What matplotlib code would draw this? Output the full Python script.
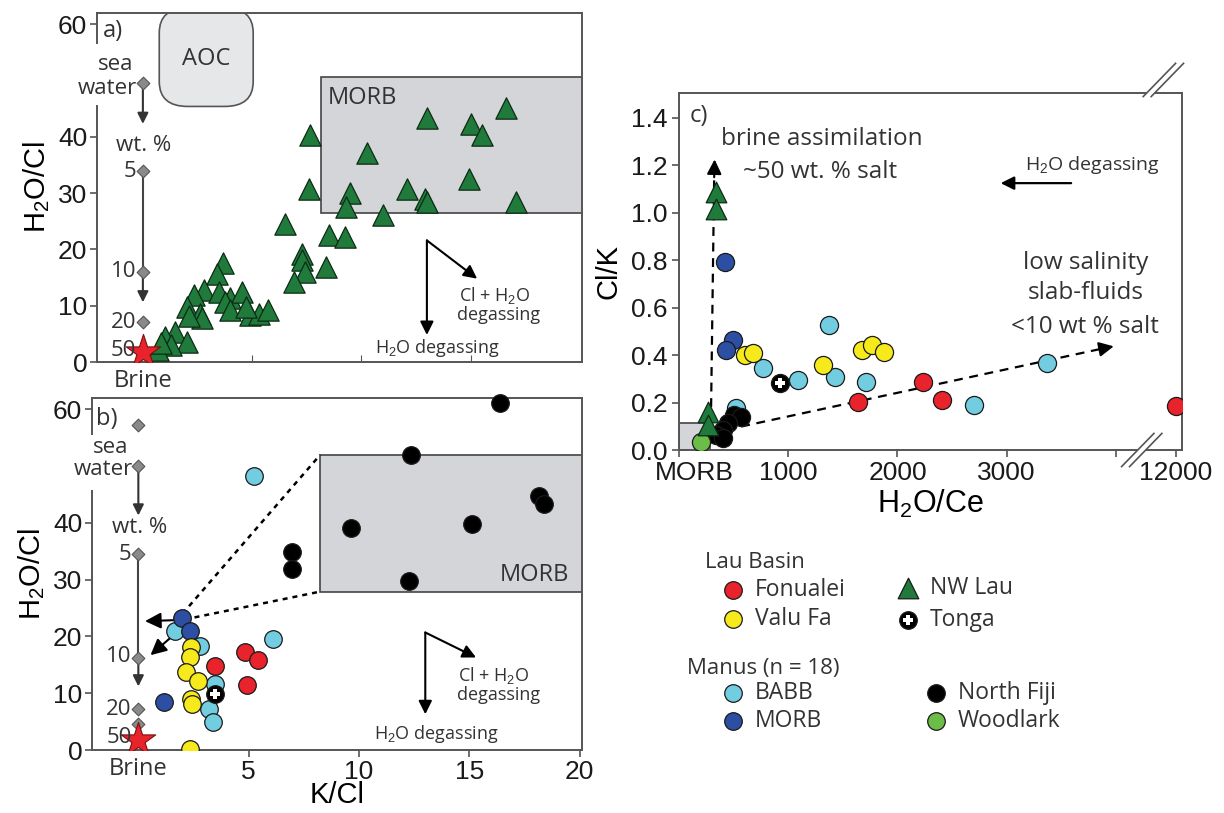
import matplotlib.pyplot as plt
from matplotlib.patches import Rectangle, FancyBboxPatch, Polygon
from matplotlib.transforms import ScaledTranslation

plt.rcParams['font.family'] = ['Liberation Sans', 'DejaVu Sans']
plt.rcParams['mathtext.fontset'] = 'custom'
plt.rcParams['mathtext.rm'] = 'Liberation Sans'
plt.rcParams['mathtext.it'] = 'Liberation Sans'
ANNO = ['Open Sans', 'DejaVu Sans']

# colours
C_RED = '#e8232b'
C_YEL = '#f6ea1c'
C_CYAN = '#72cde0'
C_BLUE = '#2c4fa3'
C_TRI = '#1f7a3c'
C_WOOD = '#6cbd47'
C_BOX = '#d4d5d8'
C_SPINE = '#555555'
C_TXT = '#333333'

# ---------------- panel a : NW Lau, K/Cl vs H2O/Cl
nwlau_kcl = [7.64, 13.0, 15.0, 15.5, 16.6, 10.25, 14.95, 7.6, 9.5, 12.1, 12.9, 13.0,
             17.1, 9.3, 11.0, 6.5, 8.5, 9.26, 7.3, 7.3, 7.4, 8.4, 6.9, 3.65, 3.4,
             2.78, 2.34, 3.48, 4.0, 4.52, 3.74, 2.0, 2.6, 2.7, 4.0, 4.9, 5.3, 5.75,
             2.1, 1.46, 1.0, 2.0, 1.3, 0.67, 4.7, 0.85]
nwlau_h2ocl = [40.4, 43.4, 42.2, 40.4, 45.1, 37.2, 32.5, 30.7, 30.1, 30.7, 28.9, 28.4,
               28.4, 27.5, 26.1, 24.5, 22.5, 22.2, 19.2, 18.1, 16.0, 16.9, 14.2, 17.5,
               15.7, 12.8, 11.9, 12.5, 11.3, 12.5, 10.7, 9.8, 8.6, 7.8, 9.2, 8.4, 8.6,
               9.2, 8.1, 5.4, 4.5, 3.6, 3.1, 2.2, 9.8, 3.4]

# brine / seawater mixing line (H2O/Cl at K/Cl = 0)
brine_a_y = [49.5, 33.9, 16.0, 7.1]
brine_b_y = [57.3, 50.0, 34.6, 16.2, 7.2, 4.6]
brine_star_y = 1.8

# ---------------- panel b : K/Cl vs H2O/Cl by group
fon_kcl = [3.48, 4.84, 5.4, 4.93]
fon_h2ocl = [14.8, 17.2, 15.8, 11.5]
valu_kcl = [2.4, 2.34, 2.17, 2.69, 2.4, 2.43, 2.34]
valu_h2ocl = [18.1, 16.3, 13.7, 12.2, 9.0, 8.1, 0.2]
babb_kcl = [5.23, 6.1, 1.68, 2.78, 3.48, 3.18, 3.39]
babb_h2ocl = [48.3, 19.5, 21.0, 18.4, 11.6, 7.2, 4.9]
mmorb_kcl = [1.99, 2.34, 1.15]
mmorb_h2ocl = [23.3, 21.0, 8.4]
tonga_kcl = [3.48]
tonga_h2ocl = [9.85]
fiji_kcl = [16.4, 12.34, 9.65, 15.1, 18.16, 18.4, 6.98, 6.98, 12.27]
fiji_h2ocl = [61.2, 52.0, 39.1, 39.8, 44.75, 43.3, 34.8, 31.8, 29.8]

# ---------------- panel c : H2O/Ce vs Cl/K
c_nwlau_x = [343, 336, 262, 262]
c_nwlau_y = [1.087, 1.017, 0.162, 0.106]
c_mmorb_x = [417, 491, 428]
c_mmorb_y = [0.793, 0.463, 0.421]
c_valu_x = [601, 675, 1321, 1672, 1764, 1875]
c_valu_y = [0.400, 0.407, 0.358, 0.421, 0.442, 0.414]
c_babb_x = [523, 768, 1089, 1376, 1424, 1708, 2705, 3369]
c_babb_y = [0.176, 0.344, 0.295, 0.526, 0.309, 0.288, 0.189, 0.365]
c_tonga_x = [923]
c_tonga_y = [0.281]
c_fon_x = [1635, 2232, 2410, 12000]
c_fon_y = [0.203, 0.288, 0.210, 0.185]
c_fiji_x = [508, 569, 446, 400, 338, 400]
c_fiji_y = [0.148, 0.141, 0.113, 0.085, 0.063, 0.05]
c_wood_x = [200]
c_wood_y = [0.035]


def xpos(v):
    # broken axis: linear to 4000, compressed beyond
    return v if v <= 4000 else 4000 + (v - 4000) * (550 / 8000)


fig = plt.figure(figsize=(12.24, 8.13), dpi=100)
W, H = 1224, 813


def add_ax(l, t, r, b):
    return fig.add_axes([l / W, 1 - b / H, (r - l) / W, (b - t) / H])


def arrow(ax, tail, tip, color='black', lw=1.5, ms=18, style='-|>'):
    ax.annotate('', xy=tip, xytext=tail,
                arrowprops=dict(arrowstyle=style, color=color, lw=lw,
                                mutation_scale=ms, shrinkA=0, shrinkB=0),
                annotation_clip=False)


def style_ab(ax, ytop, gap):
    ax.set_xlim(-2.1, 20.1)
    ax.set_ylim(0, ytop)
    for s in ax.spines.values():
        s.set_color(C_SPINE)
        s.set_linewidth(1.4)
    ax.spines['left'].set_visible(False)
    ax.axvline(-2.1, ymin=0, ymax=gap[0] / ytop, color=C_SPINE, lw=1.4, clip_on=False)
    ax.axvline(-2.1, ymin=gap[1] / ytop, ymax=1, color=C_SPINE, lw=1.4, clip_on=False)
    ax.set_yticks([0, 10, 20, 30, 40, 60])
    ax.tick_params(axis='y', labelsize=19, length=5, width=1.2, color=C_SPINE, pad=2,
                   labelcolor='#1a1a1a')
    ax.text(0, -1.2, 'Brine', family=ANNO, fontsize=17, color=C_TXT,
            ha='center', va='top')
    ax.set_ylabel('H$_2$O/Cl', fontsize=21, labelpad=4)


def brine_line(ax, ys, top_arrow, low_arrow):
    ax.plot([0, 0], [top_arrow[0] - 15.5 if False else ys[-4 if len(ys) > 4 else 1],
                     ys[-3 if len(ys) > 4 else 2]],
            color='#444444', lw=1.5, zorder=3)
    arrow(ax, (0, top_arrow[0]), (0, top_arrow[1]), color='#333333', ms=16)
    arrow(ax, (0, low_arrow[0]), (0, low_arrow[1]), color='#333333', ms=16)
    ax.scatter([0] * len(ys), ys, marker='D', s=42, color='#8a8a8a',
               edgecolor='#555555', lw=0.8, zorder=4)
    ax.scatter([0], [brine_star_y], marker='*', s=680, color=C_RED,
               edgecolor='#7a1010', lw=0.8, zorder=6)


def degassing(ax, base, down, diag, ty):
    arrow(ax, base, down, ms=20)
    arrow(ax, base, diag, ms=20)
    ax.text(16.1, ty[0], 'Cl + H$_2$O', family=ANNO, fontsize=13, color=C_TXT,
            ha='center', va='center')
    ax.text(16.3, ty[1], 'degassing', family=ANNO, fontsize=13, color=C_TXT,
            ha='center', va='center')
    ax.text(13.5, ty[2], 'H$_2$O degassing', family=ANNO, fontsize=13, color=C_TXT,
            ha='center', va='center')


# ================= panel a
ax_a = add_ax(97, 13, 582, 362)
style_ab(ax_a, 62, (45.4, 56.7))
ax_a.set_xticks([5, 10, 15])
ax_a.tick_params(axis='x', direction='in', length=5, color=C_SPINE, labelbottom=False)
ax_a.add_patch(Rectangle((8.15, 26.5), 12.0, 24.1, facecolor=C_BOX,
                         edgecolor='#444444', lw=1.2, zorder=1))
ax_a.add_patch(FancyBboxPatch((0.75, 45.4), 4.3, 17.5,
                              boxstyle='round,pad=0,rounding_size=1.3',
                              mutation_aspect=3.4, facecolor='#e6e7e9',
                              edgecolor='#555555', lw=1.2, zorder=1, clip_on=True))
ax_a.text(2.9, 53.8, 'AOC', family=ANNO, fontsize=17, color=C_TXT, ha='center', va='center')
ax_a.text(8.45, 46.9, 'MORB', family=ANNO, fontsize=17, color=C_TXT, ha='left', va='center')
ax_a.text(-1.85, 58.8, 'a)', family=ANNO, fontsize=17, color=C_TXT, ha='left', va='center')
ax_a.scatter(nwlau_kcl, nwlau_h2ocl, marker='^', s=235, color=C_TRI,
             edgecolor='#0d2b14', lw=0.9, zorder=5)
brine_line(ax_a, brine_a_y, (49.5, 42.3), (16.0, 10.6))
for yv, lab, xo in [(52.8, 'sea', -0.45), (48.6, 'water', -0.25), (38.4, 'wt. %', 1.3),
                    (33.9, '5', -0.3), (16.0, '10', -0.3), (7.1, '20', -0.3),
                    (2.0, '50', -0.3)]:
    ax_a.text(xo, yv, lab, family=ANNO, fontsize=16, color=C_TXT,
              ha='right', va='center', zorder=7)
degassing(ax_a, (13.0, 21.6), (13.0, 4.8), (15.3, 14.8), (11.9, 8.4, 2.5))

# ================= panel b
ax_b = add_ax(92, 398, 582, 750)
style_ab(ax_b, 62, (45.6, 55.6))
ax_b.set_xticks([5, 10, 15, 20])
ax_b.tick_params(axis='x', labelsize=19, length=5, width=1.2, color=C_SPINE, pad=2,
                 labelcolor='#1a1a1a')
ax_b.set_xlabel('K/Cl', fontsize=21, labelpad=-2)
ax_b.add_patch(Rectangle((8.24, 27.9), 12.0, 24.1, facecolor=C_BOX,
                         edgecolor='#444444', lw=1.2, zorder=1))
ax_b.text(19.5, 30.8, 'MORB', family=ANNO, fontsize=17, color=C_TXT, ha='right', va='center')
ax_b.text(-1.9, 58.3, 'b)', family=ANNO, fontsize=17, color=C_TXT, ha='left', va='center')
ax_b.plot([2.0, 8.24], [24.0, 52.0], color='black', lw=1.8, ls=(0, (2, 2)), zorder=2)
ax_b.plot([2.1, 8.24], [23.0, 27.9], color='black', lw=1.8, ls=(0, (2, 2)), zorder=2)
brine_line(ax_b, brine_b_y, (50.0, 41.3), (16.2, 11.2))
arrow(ax_b, (1.9, 22.9), (0.3, 22.7), ms=24)
arrow(ax_b, (1.7, 20.6), (0.55, 16.7), ms=24)
for yv, lab, xo in [(53.2, 'sea', -0.45), (49.4, 'water', -0.25), (39.2, 'wt. %', 1.3),
                    (34.4, '5', -0.3), (16.4, '10', -0.3), (7.2, '20', -0.3),
                    (2.2, '50', -0.3)]:
    ax_b.text(xo, yv, lab, family=ANNO, fontsize=16, color=C_TXT,
              ha='right', va='center', zorder=7)
kw = dict(s=160, edgecolor='#1a1a1a', lw=0.9, zorder=5)
ax_b.scatter(babb_kcl, babb_h2ocl, color=C_CYAN, **kw)
ax_b.scatter(mmorb_kcl, mmorb_h2ocl, color=C_BLUE, **kw)
ax_b.scatter(valu_kcl, valu_h2ocl, color=C_YEL, **kw)
ax_b.scatter(fon_kcl, fon_h2ocl, color=C_RED, **kw)
ax_b.scatter(fiji_kcl, fiji_h2ocl, color='black', clip_on=False, **kw)
ax_b.scatter(tonga_kcl, tonga_h2ocl, color='black', **kw)
ax_b.scatter(tonga_kcl, tonga_h2ocl, marker='P', s=45, color='white', lw=0, zorder=6)
degassing(ax_b, (13.0, 20.7), (13.0, 6.3), (15.3, 16.3), (13.1, 9.6, 2.8))

# ================= panel c
ax_c = add_ax(679, 93, 1182, 450)
ax_c.set_xlim(0, 4605)
ax_c.set_ylim(0, 1.505)
for s in ax_c.spines.values():
    s.set_color(C_SPINE)
    s.set_linewidth(1.4)
ax_c.set_yticks([0, 0.2, 0.4, 0.6, 0.8, 1.0, 1.2, 1.4])
ax_c.set_yticklabels(['0.0', '0.2', '0.4', '0.6', '0.8', '1.0', '1.2', '1.4'])
ax_c.set_xticks([0, 1000, 2000, 3000, 4000, xpos(12000)])
ax_c.set_xticklabels(['MORB', '1000', '2000', '3000', '', '12000'])
ax_c.tick_params(labelsize=19, length=5, width=1.2, color=C_SPINE, pad=3,
                 labelcolor='#1a1a1a')
morb_lab = ax_c.get_xticklabels()[0]
morb_lab.set_horizontalalignment('left')
morb_lab.set_transform(morb_lab.get_transform() +
                       ScaledTranslation(-0.24, 0, fig.dpi_scale_trans))
ax_c.set_xlabel('H$_2$O/Ce', fontsize=22, labelpad=2)
ax_c.set_ylabel('Cl/K', fontsize=21, labelpad=6)
ax_c.add_patch(Rectangle((0, 0), 288, 0.112, facecolor=C_BOX, edgecolor='#444444',
                         lw=1.2, zorder=1))
# axis break marks
for yb, x0 in ((0.0, 4052), (1.56, 4250)):
    ax_c.add_patch(Polygon([(x0, yb - 0.07), (x0 + 73, yb - 0.07), (x0 + 369, yb + 0.07),
                            (x0 + 296, yb + 0.07)], closed=True, facecolor='white',
                           edgecolor='none', clip_on=False, zorder=3))
    for xs in (x0, x0 + 73):
        ax_c.plot([xs, xs + 296], [yb - 0.07, yb + 0.07], color=C_SPINE, lw=1.2,
                  clip_on=False, zorder=4)
# trend lines
ax_c.plot([290, 322], [0.05, 1.15], color='black', lw=1.6, ls=(0, (4, 3)), zorder=2)
arrow(ax_c, (322, 1.15), (326, 1.225), ms=22)
ax_c.plot([430, 3850], [0.085, 0.425], color='black', lw=1.6, ls=(0, (4, 3)), zorder=2)
arrow(ax_c, (3850, 0.425), (3980, 0.437), ms=22)
arrow(ax_c, (3590, 1.125), (2945, 1.125), lw=1.6, ms=20)

kw = dict(s=170, edgecolor='#1a1a1a', lw=0.9, zorder=5)
ax_c.scatter(c_babb_x, c_babb_y, color=C_CYAN, **kw)
ax_c.scatter(c_fiji_x, c_fiji_y, color='black', **kw)
ax_c.scatter(c_mmorb_x, c_mmorb_y, color=C_BLUE, **kw)
ax_c.scatter(c_valu_x, c_valu_y, color=C_YEL, **kw)
ax_c.scatter([xpos(v) for v in c_fon_x], c_fon_y, color=C_RED, **kw)
ax_c.scatter(c_tonga_x, c_tonga_y, color='black', **kw)
ax_c.scatter(c_tonga_x, c_tonga_y, marker='P', s=45, color='white', lw=0, zorder=6)
ax_c.scatter(c_wood_x, c_wood_y, color=C_WOOD, **kw)
ax_c.scatter(c_nwlau_x, c_nwlau_y, marker='^', s=220, color=C_TRI,
             edgecolor='#0d2b14', lw=0.9, zorder=6)

ax_c.text(95, 1.41, 'c)', family=ANNO, fontsize=17, color=C_TXT, ha='left', va='center')
ax_c.text(380, 1.31, 'brine assimilation', family=ANNO, fontsize=17.5, color=C_TXT,
          ha='left', va='center')
ax_c.text(583, 1.17, '~50 wt. % salt', family=ANNO, fontsize=17.5, color=C_TXT,
          ha='left', va='center')
ax_c.text(3166, 1.20, 'H$_2$O degassing', family=ANNO, fontsize=14, color=C_TXT,
          ha='left', va='center')
for yv, lab in [(0.79, 'low salinity'), (0.66, 'slab-fluids'), (0.52, '<10 wt % salt')]:
    ax_c.text(3720, yv, lab, family=ANNO, fontsize=17.5, color=C_TXT,
              ha='center', va='center')

# ================= legend
ax_l = fig.add_axes([0, 0, 1, 1], zorder=-1)
ax_l.set_xlim(0, W)
ax_l.set_ylim(H, 0)
ax_l.axis('off')
legend_groups = [('Lau Basin', 705, 562), ('Manus (n = 18)', 687, 668)]
legend_items = [
    ('Fonualei', 'o', C_RED, 733, 590),
    ('Valu Fa', 'o', C_YEL, 733, 619),
    ('NW Lau', '^', C_TRI, 908, 588),
    ('Tonga', 'o', 'black', 908, 620),
    ('BABB', 'o', C_CYAN, 733, 693),
    ('MORB', 'o', C_BLUE, 733, 721),
    ('North Fiji', 'o', 'black', 936, 693),
    ('Woodlark', 'o', C_WOOD, 936, 721),
]
for lab, lx, ly in legend_groups:
    ax_l.text(lx, ly, lab, family=ANNO, fontsize=16, color=C_TXT, ha='left', va='center')
for lab, mk, col, mx, my in legend_items:
    ax_l.scatter([mx], [my], marker=mk, s=220 if mk == '^' else 160, color=col,
                 edgecolor='#1a1a1a', lw=0.9)
    if lab == 'Tonga':
        ax_l.scatter([mx], [my], marker='P', s=45, color='white', lw=0)
    ax_l.text(mx + 22, my, lab, family=ANNO, fontsize=16.5, color=C_TXT,
              ha='left', va='center')

fig.savefig('out.png', dpi=100)
